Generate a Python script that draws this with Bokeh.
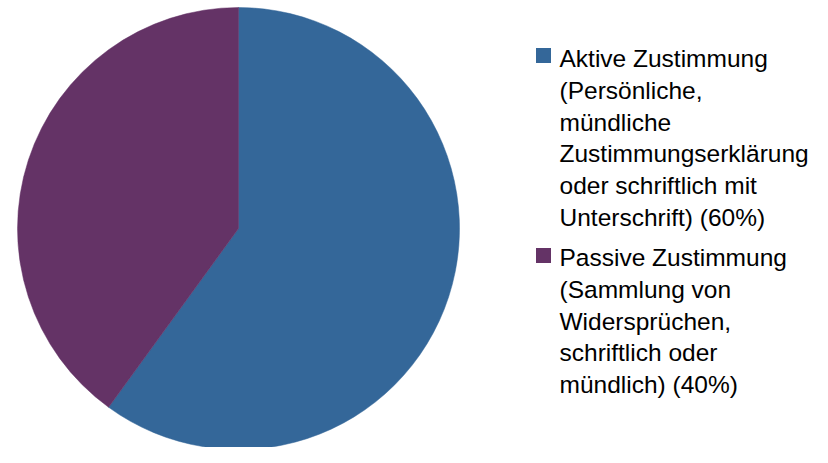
import numpy as np
from bokeh.plotting import figure
from bokeh.models import Range1d
from bokeh.core.properties import value
from bokeh.embed import file_html
from bokeh.resources import INLINE

# ---- data ----
categories = ["Aktive Zustimmung", "Passive Zustimmung"]
shares = [60, 40]
colors = ["#346799", "#643366"]
legend_labels = [
    "Aktive Zustimmung\n(Persönliche,\nmündliche\nZustimmungserklärung\noder schriftlich mit\nUnterschrift) (60%)",
    "Passive Zustimmung\n(Sammlung von\nWidersprüchen,\nschriftlich oder\nmündlich) (40%)",
]

W, H = 812, 447
p = figure(width=W, height=H, output_backend="svg", toolbar_location=None,
           x_range=Range1d(0, W), y_range=Range1d(0, H),
           min_border=0, outline_line_color=None)
p.axis.visible = False
p.grid.visible = False
p.background_fill_color = "white"

def py(y):
    return H - y

# pie: clockwise from 12 o'clock
cx, cy, r = 238, py(228), 221
fr = np.array(shares, dtype=float) / sum(shares)
ends_cw = np.cumsum(fr) * 2 * np.pi
starts_cw = ends_cw - fr * 2 * np.pi
start_angles = np.pi / 2 - ends_cw
end_angles = np.pi / 2 - starts_cw
p.wedge(x=[cx] * len(shares), y=[cy] * len(shares), radius=r,
        start_angle=list(start_angles), end_angle=list(end_angles),
        fill_color=colors, line_color=colors, line_width=0.5)

# legend drawn manually
fs = 24.5
lh = 31.8
square_centers = [55, 255]
text_first = [58, 257]
sq_x, sq = 543, 15
tx = 559
for lab, col, sy, ty in zip(legend_labels, colors, square_centers, text_first):
    p.rect(x=[sq_x], y=[py(sy)], width=sq, height=sq,
           fill_color=col, line_color=None)
    lines = lab.split("\n")
    p.text(x=[tx] * len(lines), y=[py(ty + i * lh) for i in range(len(lines))],
           text=lines, text_font=value("Liberation Sans"),
           text_font_size=f"{fs}px", text_color="#000000",
           text_baseline="alphabetic", text_align="left")

open("out.html", "w").write(file_html(p, INLINE))
